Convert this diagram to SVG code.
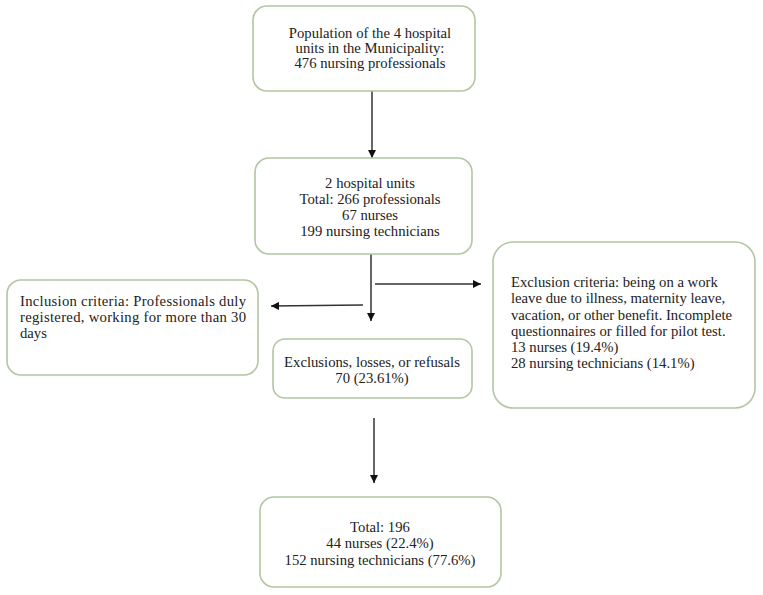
<svg xmlns="http://www.w3.org/2000/svg" width="763" height="595" viewBox="0 0 763 595">
<defs>
<style>
.box{fill:#ffffff;stroke:#b2c6a2;stroke-width:1.6}
.t{font-family:"Liberation Serif","Times New Roman",serif;font-size:14.7px;fill:#222222}
.c{text-anchor:middle}
.ln{stroke:#333;stroke-width:1.5;fill:none}
</style>
<marker id="ah" viewBox="0 0 10 10" refX="10" refY="5" markerWidth="8" markerHeight="8" markerUnits="userSpaceOnUse" orient="auto">
<path d="M0,0 L10,5 L0,10 z" fill="#111"/>
</marker>
</defs>
<rect width="763" height="595" fill="#ffffff"/>
<g id="connectors">
<line class="ln" x1="372" y1="91" x2="372" y2="158" marker-end="url(#ah)"/>
<line class="ln" x1="371" y1="254" x2="371" y2="321" marker-end="url(#ah)"/>
<line class="ln" x1="363" y1="305" x2="271" y2="306" marker-end="url(#ah)"/>
<line class="ln" x1="375" y1="284" x2="481" y2="284" marker-end="url(#ah)"/>
<line class="ln" x1="374" y1="418" x2="374" y2="483" marker-end="url(#ah)"/>
</g>
<g id="population">
<rect class="box" x="253" y="6" width="222" height="85" rx="14"/>
<text class="t c" x="370" y="38">Population of the 4 hospital</text>
<text class="t c" x="370" y="53">units in the Municipality:</text>
<text class="t c" x="370" y="68">476 nursing professionals</text>
</g>
<g id="units">
<rect class="box" x="255" y="158" width="217" height="96" rx="14"/>
<text class="t c" x="370" y="188">2 hospital units</text>
<text class="t c" x="370" y="204">Total: 266 professionals</text>
<text class="t c" x="370" y="220">67 nurses</text>
<text class="t c" x="370" y="236">199 nursing technicians</text>
</g>
<g id="inclusion">
<rect class="box" x="7" y="280" width="251" height="95" rx="14"/>
<text class="t" x="20" y="306" textLength="226" lengthAdjust="spacing">Inclusion criteria: Professionals duly</text>
<text class="t" x="20" y="322" textLength="226" lengthAdjust="spacing">registered, working for more than 30</text>
<text class="t" x="20" y="338">days</text>
</g>
<g id="exclusions">
<rect class="box" x="273" y="339" width="199" height="59" rx="12"/>
<text class="t c" x="372" y="367">Exclusions, losses, or refusals</text>
<text class="t c" x="372" y="383">70 (23.61%)</text>
</g>
<g id="exclusion-criteria">
<rect class="box" x="493" y="242" width="262" height="166" rx="20"/>
<text class="t" x="511" y="287">Exclusion criteria: being on a work</text>
<text class="t" x="511" y="303">leave due to illness, maternity leave,</text>
<text class="t" x="511" y="320">vacation, or other benefit. Incomplete</text>
<text class="t" x="511" y="336">questionnaires or filled for pilot test.</text>
<text class="t" x="511" y="352">13 nurses (19.4%)</text>
<text class="t" x="511" y="368">28 nursing technicians (14.1%)</text>
</g>
<g id="total">
<rect class="box" x="260" y="497" width="241" height="90" rx="14"/>
<text class="t c" x="380" y="532">Total: 196</text>
<text class="t c" x="380" y="548">44 nurses (22.4%)</text>
<text class="t c" x="380" y="565">152 nursing technicians (77.6%)</text>
</g>
</svg>
